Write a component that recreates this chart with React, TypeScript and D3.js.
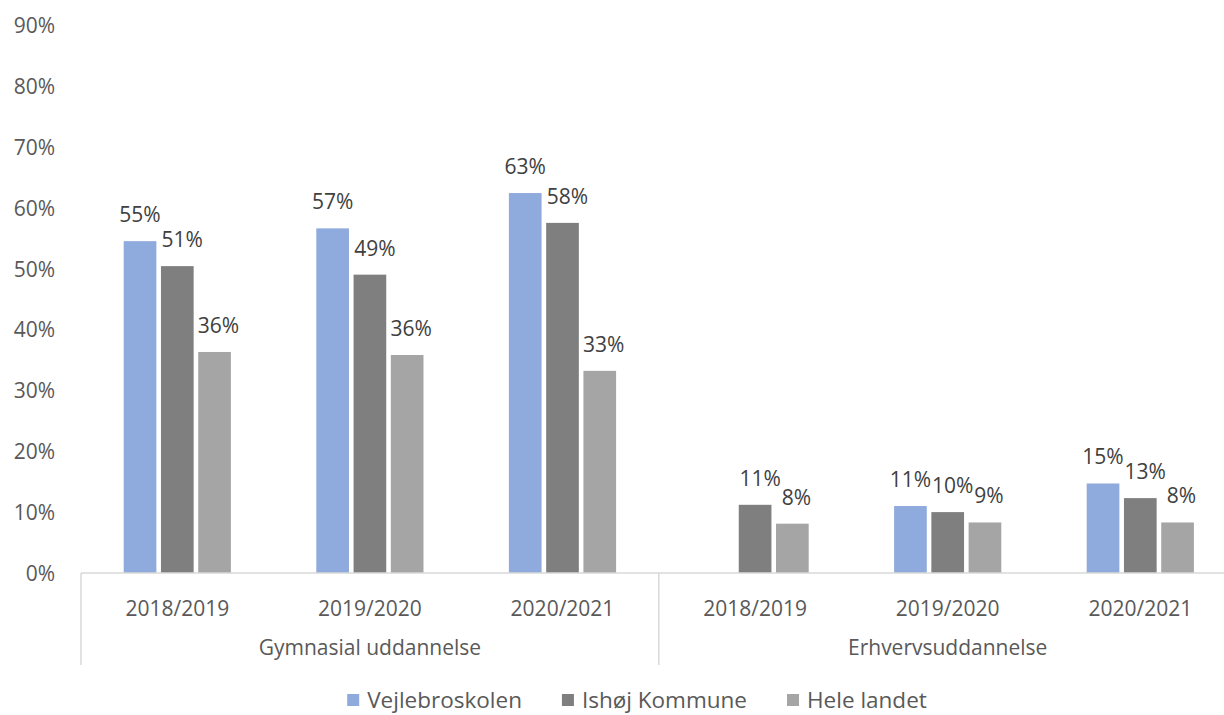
import * as d3 from "d3";
import React, { useEffect, useRef } from "react";

const categories = ["2018/2019", "2019/2020", "2020/2021", "2018/2019", "2019/2020", "2020/2021"];
const groups = ["Gymnasial uddannelse", "Erhvervsuddannelse"];
const seriesNames = ["Vejlebroskolen", "Ishøj Kommune", "Hele landet"];
const seriesColors = ["#8FAADC", "#7F7F7F", "#A5A5A5"];

// values in percent
const vejlebroskolen = [54.5, 56.6, 62.4, null, 11.0, 14.7];
const ishoj = [50.4, 49.0, 57.5, 11.2, 10.0, 12.3];
const heleLandet = [36.3, 35.8, 33.2, 8.1, 8.3, 8.3];

// data labels as printed on the chart
const vejlebroskolenLabels = ["55%", "57%", "63%", "", "11%", "15%"];
const ishojLabels = ["51%", "49%", "58%", "11%", "10%", "13%"];
const heleLandetLabels = ["36%", "36%", "33%", "8%", "9%", "8%"];

const yTicks = [0, 10, 20, 30, 40, 50, 60, 70, 80, 90];

const FONT = "'Open Sans', sans-serif";

const App = () => {
  const ref = useRef<SVGSVGElement | null>(null);

  useEffect(() => {
    const width = 1224;
    const height = 715;
    const left = 81;
    const right = 1236.6;
    const baseline = 573;
    const top = 25;

    const svg = d3.select(ref.current).attr("width", width).attr("height", height);
    svg.selectAll("*").remove();

    const series = [
      { name: seriesNames[0], values: vejlebroskolen, labels: vejlebroskolenLabels, color: seriesColors[0], dx: 0 },
      { name: seriesNames[1], values: ishoj, labels: ishojLabels, color: seriesColors[1], dx: 5 },
      { name: seriesNames[2], values: heleLandet, labels: heleLandetLabels, color: seriesColors[2], dx: 4 },
    ];

    const x = d3
      .scaleBand<number>()
      .domain(d3.range(categories.length))
      .range([left, right])
      .padding(0);

    const x1 = d3
      .scaleBand<string>()
      .domain(seriesNames)
      .range([-53.6, 53.6])
      .paddingInner(0.123);

    const y = d3.scaleLinear().domain([0, 90]).range([baseline, top]);

    // y tick labels
    svg
      .append("g")
      .selectAll("text")
      .data(yTicks)
      .enter()
      .append("text")
      .attr("x", 55)
      .attr("y", (d) => y(d))
      .attr("text-anchor", "end")
      .attr("dominant-baseline", "central")
      .style("font-family", FONT)
      .style("font-size", "21px")
      .style("fill", "#595959")
      .text((d) => `${d}%`);

    // bars
    series.forEach((s) => {
      const g = svg.append("g");
      const pts = s.values
        .map((v, i) => ({ v, i, label: s.labels[i] }))
        .filter((d) => d.v !== null) as { v: number; i: number; label: string }[];

      g.selectAll("rect")
        .data(pts)
        .enter()
        .append("rect")
        .attr("x", (d) => x(d.i)! + x.bandwidth() / 2 + x1(s.name)!)
        .attr("y", (d) => y(d.v))
        .attr("width", x1.bandwidth())
        .attr("height", (d) => baseline - y(d.v))
        .attr("fill", s.color);

      g.selectAll("text")
        .data(pts)
        .enter()
        .append("text")
        .attr("x", (d) => x(d.i)! + x.bandwidth() / 2 + x1(s.name)! + x1.bandwidth() / 2 + s.dx)
        .attr("y", (d) => y(d.v) - 27)
        .attr("text-anchor", "middle")
        .attr("dominant-baseline", "central")
        .style("font-family", FONT)
        .style("font-size", "21px")
        .style("fill", "#404040")
        .text((d) => d.label);
    });

    // category axis
    const axis = svg.append("g");
    axis
      .append("line")
      .attr("x1", left)
      .attr("x2", right)
      .attr("y1", baseline)
      .attr("y2", baseline)
      .attr("stroke", "#D9D9D9")
      .attr("stroke-width", 1.5);

    const groupEdges = [0, 3, 6].map((i) => (i < categories.length ? x(i)! : right));
    axis
      .selectAll("line.sep")
      .data(groupEdges)
      .enter()
      .append("line")
      .attr("class", "sep")
      .attr("x1", (d) => d)
      .attr("x2", (d) => d)
      .attr("y1", baseline)
      .attr("y2", 665)
      .attr("stroke", "#D9D9D9")
      .attr("stroke-width", 1.5);

    axis
      .selectAll("text.cat")
      .data(categories)
      .enter()
      .append("text")
      .attr("class", "cat")
      .attr("x", (d, i) => x(i)! + x.bandwidth() / 2)
      .attr("y", 608)
      .attr("text-anchor", "middle")
      .attr("dominant-baseline", "central")
      .style("font-family", FONT)
      .style("font-size", "21px")
      .style("fill", "#595959")
      .text((d) => d);

    axis
      .selectAll("text.grp")
      .data(groups)
      .enter()
      .append("text")
      .attr("class", "grp")
      .attr("x", (d, i) => (groupEdges[i] + groupEdges[i + 1]) / 2)
      .attr("y", 647)
      .attr("text-anchor", "middle")
      .attr("dominant-baseline", "central")
      .style("font-family", FONT)
      .style("font-size", "21px")
      .style("fill", "#595959")
      .text((d) => d);

    // legend
    const legend = svg.append("g");
    const items = legend
      .selectAll("g")
      .data(series)
      .enter()
      .append("g");
    items
      .append("rect")
      .attr("width", 12)
      .attr("height", 12)
      .attr("y", 694)
      .attr("fill", (d) => d.color);
    items
      .append("text")
      .attr("x", 20)
      .attr("y", 699)
      .attr("dominant-baseline", "central")
      .style("font-family", FONT)
      .style("font-size", "22.5px")
      .style("fill", "#595959")
      .text((d) => d.name);

    // lay the legend out centered (slightly right of the page middle) using measured text widths
    const widths: number[] = [];
    items.select("text").each(function () {
      widths.push((this as SVGTextElement).getComputedTextLength() + 20);
    });
    const gap = 40;
    const total = d3.sum(widths) + gap * (widths.length - 1);
    let cx = width / 2 - total / 2 + 25;
    items.attr("transform", (d, i) => {
      const t = `translate(${cx},0)`;
      cx += widths[i] + gap;
      return t;
    });
  }, []);

  return <svg ref={ref} style={{ position: "absolute", left: 0, top: 0 }}></svg>;
};

export default App;
